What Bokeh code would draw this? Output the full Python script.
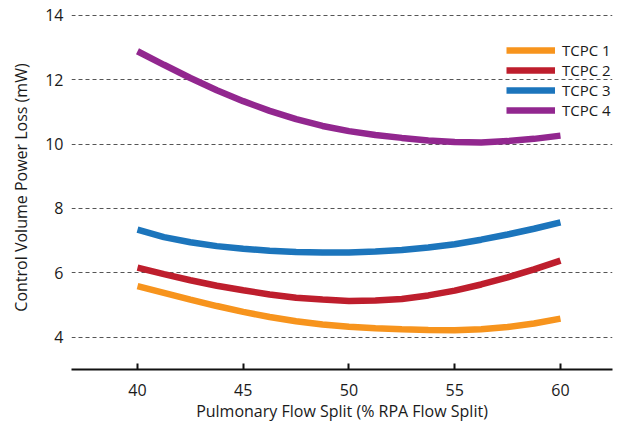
from bokeh.plotting import figure
from bokeh.models import Range1d, FixedTicker, Legend, LegendItem
from bokeh.embed import file_html
from bokeh.resources import INLINE

flow_split = [40, 41.25, 42.5, 43.75, 45, 46.25, 47.5, 48.75, 50,
              51.25, 52.5, 53.75, 55, 56.25, 57.5, 58.75, 60]
tcpc1 = [5.59, 5.38, 5.17, 4.97, 4.79, 4.63, 4.50, 4.40, 4.33,
         4.28, 4.25, 4.23, 4.22, 4.25, 4.32, 4.43, 4.58]
tcpc2 = [6.16, 5.96, 5.77, 5.60, 5.46, 5.33, 5.23, 5.17, 5.13,
         5.14, 5.19, 5.30, 5.45, 5.64, 5.86, 6.11, 6.38]
tcpc3 = [7.34, 7.11, 6.95, 6.83, 6.75, 6.69, 6.65, 6.63, 6.63,
         6.66, 6.71, 6.79, 6.89, 7.03, 7.19, 7.37, 7.57]
tcpc4 = [12.88, 12.46, 12.05, 11.67, 11.33, 11.03, 10.77, 10.56, 10.40,
         10.28, 10.19, 10.11, 10.06, 10.05, 10.09, 10.16, 10.26]
series_names = ["TCPC 1", "TCPC 2", "TCPC 3", "TCPC 4"]
x_ticks = [40, 45, 50, 55, 60]
y_ticks = [4, 6, 8, 10, 12, 14]

colors = ["#F7941D", "#BE1E2D", "#1C75BC", "#92278F"]
FONT = "Open Sans"
TXT = "#1a1a1a"

p = figure(width=621, height=425, output_backend="svg", toolbar_location=None,
           x_range=Range1d(36.88, 62.46), y_range=Range1d(3, 14.3),
           min_border_left=71, min_border_right=9, min_border_top=5, min_border_bottom=56)
p.outline_line_color = None
p.xgrid.grid_line_color = None
p.ygrid.grid_line_color = "#555555"
p.ygrid.grid_line_dash = "4 3"
p.ygrid.grid_line_width = 1
p.ygrid.ticker = FixedTicker(ticks=y_ticks)

p.xaxis.ticker = FixedTicker(ticks=x_ticks)
p.xaxis.axis_line_color = "#111111"
p.xaxis.axis_line_width = 2
p.xaxis.major_tick_in = 6
p.xaxis.major_tick_out = 0
p.xaxis.major_tick_line_width = 2
p.xaxis.major_tick_line_color = "#111111"
p.xaxis.minor_tick_line_color = None
p.xaxis.major_label_standoff = 14
p.xaxis.axis_label = "Pulmonary Flow Split (% RPA Flow Split)"

p.yaxis.ticker = FixedTicker(ticks=y_ticks)
p.yaxis.axis_line_color = None
p.yaxis.major_tick_line_color = None
p.yaxis.minor_tick_line_color = None
p.yaxis.major_tick_in = 0
p.yaxis.major_tick_out = 0
p.yaxis.major_label_standoff = 8
p.yaxis.axis_label = "Control Volume Power Loss (mW)"

for ax in (p.xaxis[0], p.yaxis[0]):
    ax.major_label_text_font = FONT
    ax.major_label_text_font_size = "16px"
    ax.major_label_text_color = TXT
    ax.axis_label_text_font = FONT
    ax.axis_label_text_font_size = "16px"
    ax.axis_label_text_font_style = "normal"
    ax.axis_label_text_color = TXT
p.xaxis.axis_label_standoff = 1
p.yaxis.axis_label_standoff = 10

items = []
for name, ys, c in zip(series_names, [tcpc1, tcpc2, tcpc3, tcpc4], colors):
    r = p.line(flow_split, ys, line_color=c, line_width=6.5)
    items.append(LegendItem(label=name, renderers=[r]))

legend = Legend(items=items, location=(435, 249), margin=0, padding=0,
                glyph_width=49, glyph_height=18, label_height=18, label_standoff=7,
                spacing=-1, border_line_alpha=0, background_fill_alpha=0,
                label_text_font=FONT, label_text_font_size="15px", label_text_color=TXT)
p.add_layout(legend)

open("out.html", "w").write(file_html(p, INLINE))
